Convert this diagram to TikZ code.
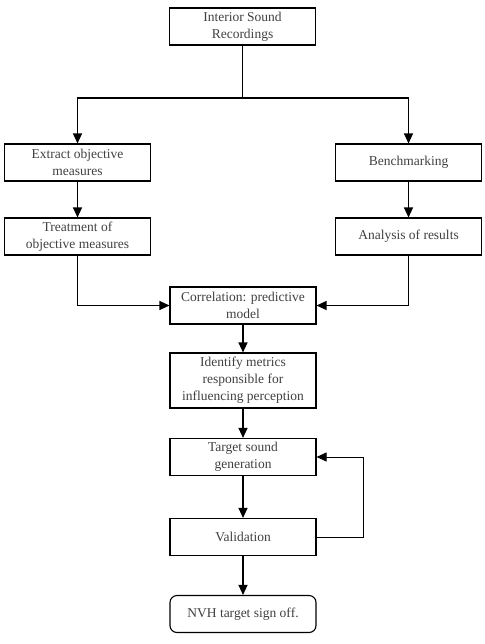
\documentclass[tikz,border=0pt]{standalone}
\usepackage{fontspec}
\setmainfont{Liberation Serif}
\usetikzlibrary{arrows.meta}
\tikzset{
    stagebox/.style={draw, line width=1.1pt, minimum width=146pt, minimum height=37pt,
        align=center, text=black!75, font=\fontsize{13.5}{17}\selectfont, inner sep=2pt},
    endbox/.style={stagebox, rounded corners=7pt},
    flow/.style={line width=1.2pt, -{Triangle[length=10pt,width=9pt]}}
}
\begin{document}
\begin{tikzpicture}[x=1pt, y=-1pt]
                    \useasboundingbox (0,0) rectangle (484,644);
                    \node[stagebox] (rec)   at (242.5, 26.5) {Interior Sound\\Recordings};
                    \node[stagebox] (extr)  at ( 77.5,162.5) {Extract objective\\measures};
                    \node[stagebox] (bench) at (408.5,162.5) {Benchmarking};
                    \node[stagebox] (treat) at ( 77.5,236.5) {Treatment of\\objective measures};
                    \node[stagebox] (anal)  at (408.5,236.5) {Analysis of results};
                    \node[stagebox] (corr)  at (243,  305.5) {Correlation: predictive\\model};
                    \node[stagebox, minimum height=55pt] (ident) at (243, 380.5)
                        {Identify metrics\\responsible for\\influencing perception};
                    \node[stagebox] (targ)  at (243,  457)   {Target sound\\generation};
                    \node[stagebox] (valid) at (243,  537)   {Validation};
                    \node[endbox]   (nvh)   at (243,  614)   {NVH target sign off.};
                    \coordinate (split) at (242.5,98);
                    \draw[line width=1.2pt] (rec.south) -- (split);
                    \draw[flow] (split) -| (extr.north);
                    \draw[flow] (split) -| (bench.north);
                    \draw[flow] (extr) -- (treat);
                    \draw[flow] (bench) -- (anal);
                    \draw[flow] (treat.south) |- (corr.west);
                    \draw[flow] (anal.south) |- (corr.east);
                    \draw[flow] (corr) -- (ident);
                    \draw[flow] (ident) -- (targ);
                    \draw[flow] (targ) -- (valid);
                    \draw[flow] (valid) -- (nvh);
                    \draw[flow, line width=0.9pt] (valid.east) -- ++(47,0) |- (targ.east);
                \end{tikzpicture}
\end{document}
